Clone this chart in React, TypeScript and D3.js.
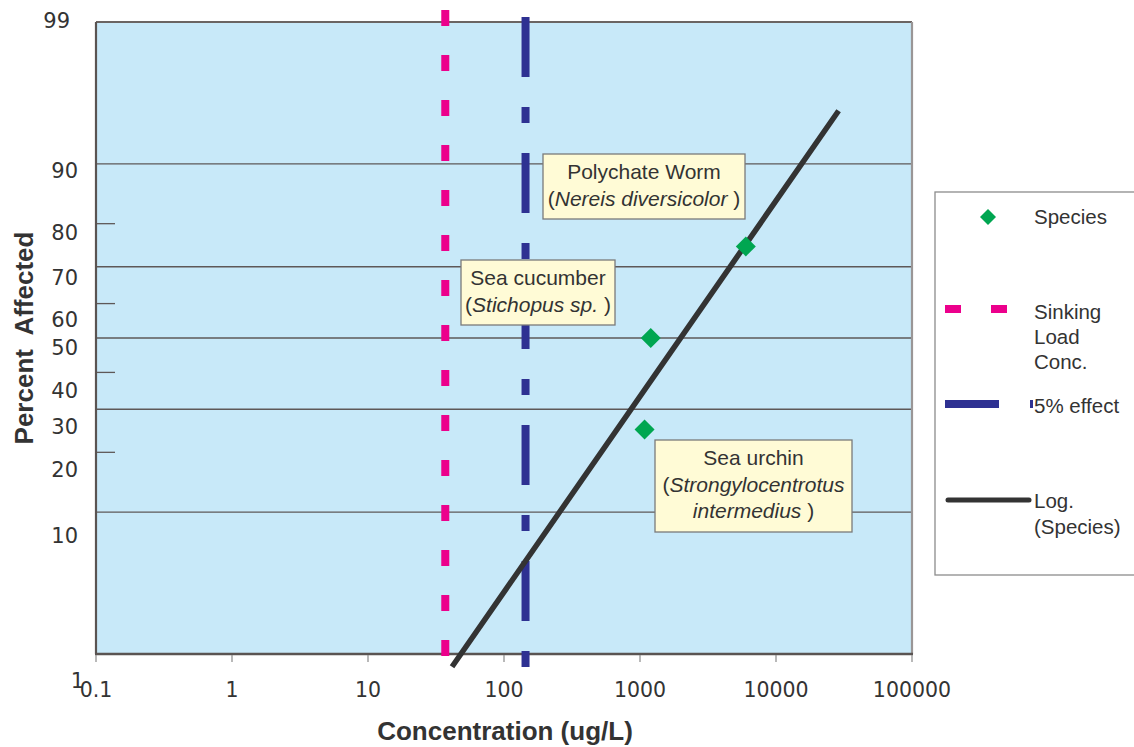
import React from "react";
import * as d3 from "d3";

// Species toxicity observations: concentration (ug/L) vs percent affected
const speciesConc = [1080, 1200, 6000];
const speciesPct = [25, 50, 75];

// Reference concentrations (ug/L)
const sinkingLoadConc = 37;
const fivePctEffectConc = 144;

// Log-probit regression: z = intercept + slope * log10(conc)
const trendIntercept = -4.75;
const trendSlope = 1.44;
const trendRange = [42.6, 28100];

// Axis ticks
const xTicks = [0.1, 1, 10, 100, 1000, 10000, 100000];
const xTickLabels = ["0.1", "1", "10", "100", "1000", "10000", "100000"];
const yTicks = [99, 90, 80, 70, 60, 50, 40, 30, 20, 10, 1];
const yGridMajor = [90, 70, 50, 30, 10];
const yGridMinor = [80, 60, 40, 20];

// Inverse standard normal CDF (Acklam's approximation)
function probit(p: number): number {
  const a = [-3.969683028665376e1, 2.209460984245205e2, -2.759285104469687e2, 1.38357751867269e2, -3.066479806614716e1, 2.506628277459239];
  const b = [-5.447609879822406e1, 1.615858368580409e2, -1.556989798598866e2, 6.680131188771972e1, -1.328068155288572e1];
  const c = [-7.784894002430293e-3, -3.223964580411365e-1, -2.400758277161838, -2.549732539343734, 4.374664141464968, 2.938163982698783];
  const d = [7.784695709041462e-3, 3.224671290700398e-1, 2.445134137142996, 3.754408661907416];
  const plow = 0.02425;
  if (p < plow) {
    const q = Math.sqrt(-2 * Math.log(p));
    return (((((c[0] * q + c[1]) * q + c[2]) * q + c[3]) * q + c[4]) * q + c[5]) / ((((d[0] * q + d[1]) * q + d[2]) * q + d[3]) * q + 1);
  }
  if (p <= 1 - plow) {
    const q = p - 0.5;
    const r = q * q;
    return ((((((a[0] * r + a[1]) * r + a[2]) * r + a[3]) * r + a[4]) * r + a[5]) * q) / (((((b[0] * r + b[1]) * r + b[2]) * r + b[3]) * r + b[4]) * r + 1);
  }
  const q = Math.sqrt(-2 * Math.log(1 - p));
  return -(((((c[0] * q + c[1]) * q + c[2]) * q + c[3]) * q + c[4]) * q + c[5]) / ((((d[0] * q + d[1]) * q + d[2]) * q + d[3]) * q + 1);
}

const W = 1134;
const H = 747;
const plot = { left: 96, right: 912, top: 22, bottom: 654 };

const x = d3.scaleLog().domain([0.1, 100000]).range([plot.left, plot.right]);
const yZ = d3.scaleLinear().domain([probit(0.01), probit(0.99)]).range([plot.bottom, plot.top]);
const y = (pct: number) => yZ(probit(pct / 100));

// label nudges (dx, dy) applied to the y tick labels
const yLabelNudge: [number, number][] = [
  [-8, 6], [0, 14], [0, 16], [0, 18], [0, 23], [0, 17], [0, 26], [0, 25], [0, 25], [0, 31], [6, 34],
];

const TXT = "#333333";
const SANS = "'Liberation Sans', Arial, sans-serif";
const DEJAVU = "'DejaVu Sans', Verdana, sans-serif";
const PINK = "#ec008c";
const NAVY = "#2e3192";
const GREEN = "#00a651";
const LINE = "#333333";
const GRID = "#5e5858";
const NOTE_FILL = "#fffbd6";

const diamond = (cx: number, cy: number, r: number) =>
  `M${cx},${cy - r}L${cx + r},${cy}L${cx},${cy + r}L${cx - r},${cy}Z`;

function Note({ x0, y0, w, h, lines }: { x0: number; y0: number; w: number; h: number; lines: React.ReactNode[] }) {
  const cx = x0 + w / 2;
  return (
    <g>
      <rect x={x0} y={y0} width={w} height={h} fill={NOTE_FILL} stroke="#7a7a7a" strokeWidth={1.3} />
      {lines.map((ln, i) => (
        <text key={i} x={cx} y={y0 + 25 + i * 26.5} textAnchor="middle" fontFamily={SANS} fontSize={21} fill={TXT}>
          {ln}
        </text>
      ))}
    </g>
  );
}

export default function App() {
  const trendLine = d3
    .line<number>()
    .x((c) => x(c))
    .y((c) => yZ(trendIntercept + trendSlope * Math.log10(c)));

  return (
    <svg width={W} height={H} style={{ position: "absolute", left: 0, top: 0, background: "#fff" }}>
      {/* plot background */}
      <rect x={plot.left} y={plot.top} width={plot.right - plot.left} height={plot.bottom - plot.top} fill="#c8e9f9" />

      {/* horizontal grid */}
      {yGridMajor.map((v) => (
        <line key={"g" + v} x1={plot.left} x2={plot.right} y1={y(v)} y2={y(v)} stroke={GRID} strokeWidth={1.3} />
      ))}
      {yGridMinor.map((v) => (
        <line key={"m" + v} x1={plot.left} x2={plot.left + 19} y1={y(v)} y2={y(v)} stroke={GRID} strokeWidth={1.3} />
      ))}

      {/* frame */}
      <line x1={plot.left} x2={plot.right} y1={plot.top} y2={plot.top} stroke="#6b6563" strokeWidth={2.2} />
      <line x1={plot.right} x2={plot.right} y1={plot.top} y2={plot.bottom} stroke="#9a9696" strokeWidth={2.2} />
      <line x1={plot.left} x2={plot.left} y1={plot.top} y2={plot.bottom} stroke="#5a5452" strokeWidth={2.2} />
      <line x1={plot.left - 1} x2={plot.right + 1} y1={plot.bottom} y2={plot.bottom} stroke="#5a5452" strokeWidth={2.6} />

      {/* x ticks */}
      {xTicks.map((t) => (
        <line key={"xt" + t} x1={x(t)} x2={x(t)} y1={plot.bottom + 1} y2={plot.bottom + 8} stroke="#8a8a8a" strokeWidth={1.2} />
      ))}

      {/* reference concentrations */}
      <line x1={x(sinkingLoadConc)} x2={x(sinkingLoadConc)} y1={plot.top - 12} y2={plot.bottom + 6} stroke={PINK} strokeWidth={8} strokeDasharray="16,29" />
      <line x1={x(fivePctEffectConc)} x2={x(fivePctEffectConc)} y1={plot.top - 5} y2={plot.bottom + 14} stroke={NAVY} strokeWidth={8} strokeDasharray="60,30,16,30" />

      {/* regression line */}
      <path d={trendLine(trendRange) || ""} fill="none" stroke={LINE} strokeWidth={5.5} strokeLinecap="square" />

      {/* species points */}
      {speciesConc.map((c, i) => (
        <path key={"p" + i} d={diamond(x(c), y(speciesPct[i]), 10)} fill={GREEN} />
      ))}

      {/* species notes */}
      <Note x0={543} y0={154} w={202} h={65} lines={["Polychate Worm", <>(<tspan fontStyle="italic">Nereis diversicolor</tspan> )</>]} />
      <Note x0={461} y0={260} w={154} h={65} lines={["Sea cucumber", <>(<tspan fontStyle="italic">Stichopus sp.</tspan> )</>]} />
      <Note x0={655} y0={440} w={197} h={92} lines={["Sea urchin", <>(<tspan fontStyle="italic">Strongylocentrotus</tspan></>, <><tspan fontStyle="italic">intermedius</tspan> )</>]} />

      {/* y tick labels */}
      {yTicks.map((v, i) => (
        <text key={"yl" + v} x={78 + yLabelNudge[i][0]} y={y(v) + yLabelNudge[i][1]} textAnchor="end" fontFamily={DEJAVU} fontSize={21} fill={TXT}>
          {v}
        </text>
      ))}

      {/* x tick labels */}
      {xTicks.map((t, i) => (
        <text key={"xl" + t} x={x(t)} y={697} textAnchor="middle" fontFamily={DEJAVU} fontSize={20.5} fill={TXT}>
          {xTickLabels[i]}
        </text>
      ))}

      {/* axis titles */}
      <text x={505} y={740} textAnchor="middle" fontFamily={SANS} fontWeight="bold" fontSize={26} fill={TXT}>
        Concentration (ug/L)
      </text>
      <text transform="translate(33,338) rotate(-90)" textAnchor="middle" fontFamily={SANS} fontWeight="bold" fontSize={26} fill={TXT} style={{ whiteSpace: "pre" }}>
        {"Percent  Affected"}
      </text>

      {/* legend */}
      <g>
        <rect x={935} y={192} width={220} height={383} fill="#fff" stroke="#8c8c8c" strokeWidth={1.3} />
        <path d={diamond(988, 217, 8)} fill={GREEN} />
        <text x={1034} y={224} fontFamily={SANS} fontSize={20.5} fill={TXT}>Species</text>

        <line x1={945} x2={1008} y1={309} y2={309} stroke={PINK} strokeWidth={8} strokeDasharray="16,30" />
        <text fontFamily={SANS} fontSize={20.5} fill={TXT}>
          <tspan x={1034} y={319}>Sinking</tspan>
          <tspan x={1034} y={344}>Load</tspan>
          <tspan x={1034} y={369}>Conc.</tspan>
        </text>

        <line x1={945} x2={1033} y1={404} y2={404} stroke={NAVY} strokeWidth={8} strokeDasharray="54,31" />
        <text x={1034} y={413} fontFamily={SANS} fontSize={20.5} fill={TXT}>5% effect</text>

        <line x1={948} x2={1029} y1={500} y2={500} stroke={LINE} strokeWidth={5} strokeLinecap="round" />
        <text fontFamily={SANS} fontSize={20.5} fill={TXT}>
          <tspan x={1034} y={508}>Log.</tspan>
          <tspan x={1034} y={534}>(Species)</tspan>
        </text>
      </g>
    </svg>
  );
}
